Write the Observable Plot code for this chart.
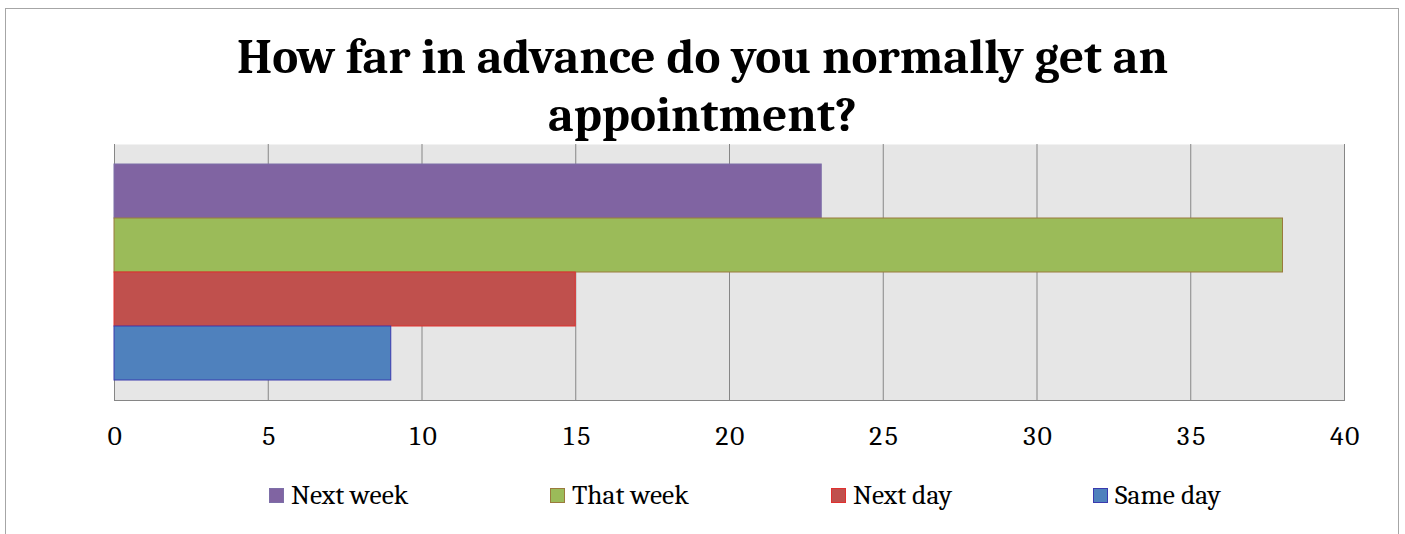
<!DOCTYPE html>
<html>
<head>
<meta charset="utf-8">
<script src="https://cdn.jsdelivr.net/npm/d3@7"></script>
<script src="https://cdn.jsdelivr.net/npm/@observablehq/plot@0.6"></script>
<style>
  html, body { margin: 0; padding: 0; background: #fff; }
  body { width: 1405px; height: 534px; position: relative; overflow: hidden;
         font-family: Cambria, Caladea, "DejaVu Serif", serif; }
  #frame { position: absolute; left: 5px; top: 8px; width: 1394px; height: 600px;
           border: 1px solid #a6a6a6; box-sizing: border-box; }
  #title { position: absolute; left: 0; top: 28px; width: 1405px; text-align: center;
           font-weight: bold; font-size: 49px; line-height: 58px; color: #000; }
  #chart { position: absolute; left: 0; top: 0; }
  #legend { position: absolute; left: 269px; top: 479px; display: flex; font-size: 27.5px; color: #000; }
  .item { display: flex; align-items: center; }
  .sw { width: 15px; height: 15px; margin-right: 7px; box-sizing: border-box; border: 1px solid; flex: none; }
</style>
</head>
<body>
<div id="frame"></div>
<div id="title">How far in advance do you normally get an<br>appointment?</div>
<div id="chart"></div>
<div id="legend"></div>
<script>
const categories = ["Next week", "That week", "Next day", "Same day"];
const values = [23, 38, 15, 9];
const fills = ["#8064a2", "#9bbb59", "#c0504d", "#4f81bd"];
const strokes = ["#7d6fa8", "#9a7a3c", "#e0302f", "#3a3aae"];
const xTicks = [0, 5, 10, 15, 20, 25, 30, 35, 40];
const legendWidths = [281, 281, 262, 200];

const data = categories.map((c, i) => ({category: c, value: values[i], fill: fills[i], stroke: strokes[i]}));

const plot = Plot.plot({
  width: 1405,
  height: 470,
  marginLeft: 114,
  marginRight: 61,
  marginTop: 144,
  marginBottom: 70,
  style: {fontFamily: 'Cambria, Caladea, "DejaVu Serif", serif', fontSize: "27.5px", color: "#000", background: "transparent"},
  x: {domain: [0, 40], ticks: xTicks, label: null},
  y: {domain: categories, paddingInner: 0, paddingOuter: 0.35, axis: null},
  marks: [
    Plot.frame({fill: "#e6e6e6", stroke: null}),
    Plot.ruleX(xTicks, {stroke: "#868686", strokeWidth: 1, strokeOpacity: 1}),
    Plot.barX(data, {y: "category", x: "value", fill: d => d.fill, stroke: d => d.stroke, strokeWidth: 1}),
    Plot.axisX({ticks: xTicks, tickSize: 0, tickPadding: 24.5, tickFormat: d => String(d), label: null}),
    Plot.frame({anchor: "bottom", stroke: "#868686"})
  ]
});
document.getElementById("chart").appendChild(plot);

const legend = document.getElementById("legend");
categories.forEach((c, i) => {
  const it = document.createElement("div");
  it.className = "item";
  it.style.width = legendWidths[i] + "px";
  const sw = document.createElement("span");
  sw.className = "sw";
  sw.style.background = fills[i];
  sw.style.borderColor = strokes[i];
  const tx = document.createElement("span");
  tx.textContent = c;
  it.appendChild(sw); it.appendChild(tx);
  legend.appendChild(it);
});
</script>
</body>
</html>
